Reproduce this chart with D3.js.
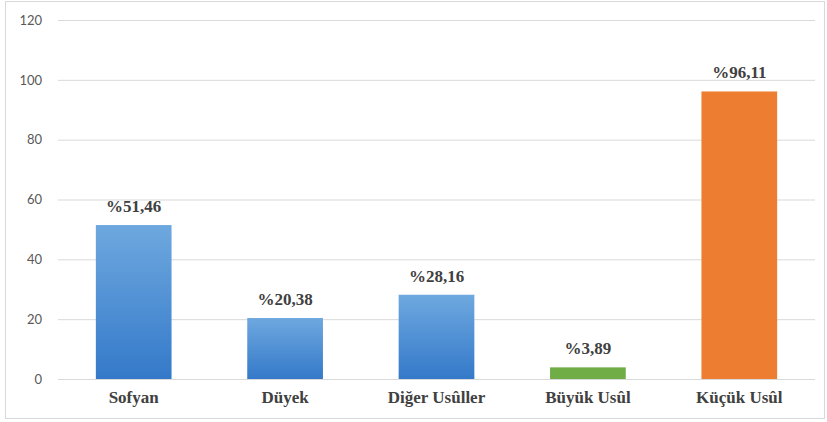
<!DOCTYPE html>
<meta charset="utf-8">
<style>
body { margin: 0; background: #fff; }
.ytick text { font-family: Lato, "Open Sans", sans-serif; font-size: 13px; fill: #595959; }
</style>
<body>
<script src="https://d3js.org/d3.v7.min.js"></script>
<script>
// data
var categories = ["Sofyan", "Düyek", "Diğer Usûller", "Büyük Usûl", "Küçük Usûl"];
var values = [51.46, 20.38, 28.16, 3.89, 96.11];
var valueLabels = ["%51,46", "%20,38", "%28,16", "%3,89", "%96,11"];
var barColors = ["blue", "blue", "blue", "green", "orange"];
var yTicks = [0, 20, 40, 60, 80, 100, 120];

var W = 827, H = 422;
var margin = {top: 20, right: 12, bottom: 43, left: 58};
var width = W - margin.left - margin.right,
    height = H - margin.top - margin.bottom;

var svg = d3.select("body").append("svg")
    .attr("width", W)
    .attr("height", H);

// gradient for the blue bars
var defs = svg.append("defs");
var grad = defs.append("linearGradient")
    .attr("id", "blueGrad")
    .attr("x1", 0).attr("y1", 0).attr("x2", 0).attr("y2", 1);
grad.append("stop").attr("offset", "0%").attr("stop-color", "#6ea8df");
grad.append("stop").attr("offset", "100%").attr("stop-color", "#3479c9");

var fills = {blue: "url(#blueGrad)", green: "#70ad47", orange: "#ed7d31"};

// outer frame
svg.append("rect")
    .attr("x", 5.5).attr("y", 1.5)
    .attr("width", W - 8).attr("height", H - 5)
    .attr("fill", "none")
    .attr("stroke", "#d9d9d9");

var g = svg.append("g")
    .attr("transform", "translate(" + margin.left + "," + margin.top + ")");

var x = d3.scaleBand()
    .domain(categories)
    .range([0, width])
    .paddingInner(0.5)
    .paddingOuter(0.25);

var y = d3.scaleLinear()
    .domain([0, 120])
    .range([height, 0]);

// gridlines + y labels
var yAxis = g.append("g")
    .attr("class", "ytick")
    .call(d3.axisLeft(y).tickValues(yTicks).tickSize(-width).tickPadding(16));
yAxis.select(".domain").remove();
yAxis.selectAll(".tick line").attr("stroke", "#d9d9d9");

// bars
g.selectAll(".bar")
    .data(values)
  .enter().append("rect")
    .attr("class", "bar")
    .attr("x", function(d, i) { return x(categories[i]); })
    .attr("width", x.bandwidth())
    .attr("y", function(d) { return y(d); })
    .attr("height", function(d) { return height - y(d); })
    .attr("fill", function(d, i) { return fills[barColors[i]]; });

// value labels
g.selectAll(".vlbl")
    .data(values)
  .enter().append("text")
    .attr("class", "vlbl")
    .attr("x", function(d, i) { return x(categories[i]) + x.bandwidth() / 2; })
    .attr("y", function(d) { return y(d) - 13; })
    .attr("text-anchor", "middle")
    .style("font-family", "'Liberation Serif', serif")
    .style("font-weight", "bold")
    .style("font-size", "17px")
    .style("fill", "#404040")
    .text(function(d, i) { return valueLabels[i]; });

// category labels
var xAxis = g.append("g")
    .attr("transform", "translate(0," + height + ")")
    .call(d3.axisBottom(x).tickSize(0).tickPadding(12));
xAxis.select(".domain").remove();
xAxis.selectAll(".tick text")
    .style("font-family", "'Liberation Serif', serif")
    .style("font-weight", "bold")
    .style("font-size", "17px")
    .style("fill", "#404040");
</script>
</body>
